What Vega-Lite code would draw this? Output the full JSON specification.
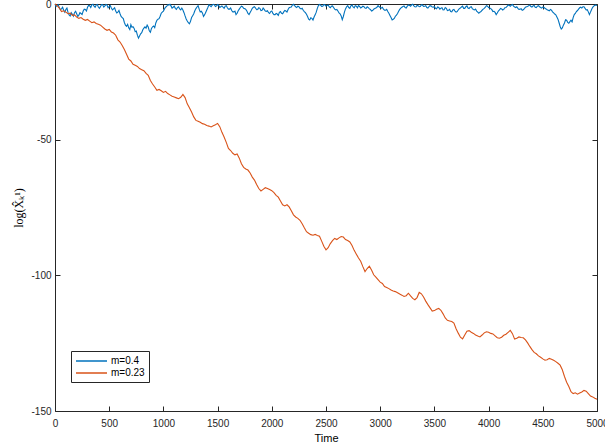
{
  "$schema": "https://vega.github.io/schema/vega-lite/v6.json",
  "autosize": {"type": "none"},
  "padding": {"left": 55, "top": 4, "right": 8, "bottom": 37},
  "width": 542,
  "height": 407,
  "background": "white",
  "config": {
    "view": {"stroke": null},
    "axis": {
      "domainColor": "#262626",
      "domainWidth": 1,
      "tickColor": "#262626",
      "tickSize": -5,
      "tickWidth": 1,
      "labelColor": "#262626",
      "labelFont": "Liberation Sans",
      "labelFontSize": 10,
      "titleColor": "#000000",
      "titleFont": "Liberation Sans",
      "titleFontSize": 11,
      "titleFontWeight": "normal",
      "grid": false,
      "zindex": 1
    },
    "legend": {
      "orient": "none",
      "legendX": 16,
      "legendY": 347,
      "direction": "vertical",
      "strokeColor": "#262626",
      "fillColor": "white",
      "padding": 4,
      "symbolType": "M-1,0H5.2",
      "symbolSize": 100,
      "symbolStrokeWidth": 1.5,
      "labelFont": "Liberation Sans",
      "labelFontSize": 10,
      "labelColor": "#000000",
      "labelOffset": 24,
      "rowPadding": 1,
      "cornerRadius": 0
    }
  },
  "datasets": {
    "a": [
{"t":0,"v":0},{"t":20,"v":-0.5},{"t":40,"v":-1.4},{"t":60,"v":-1.8},{"t":80,"v":-2.3},{"t":100,"v":-2.0},{"t":120,"v":-3.1},{"t":140,"v":-4.4},{"t":160,"v":-3.8},{"t":180,"v":-3.2},{"t":200,"v":-3.6},{"t":220,"v":-4.1},{"t":240,"v":-3.5},{"t":260,"v":-2.6},{"t":280,"v":-2.0},{"t":300,"v":-1.2},{"t":320,"v":-0.6},{"t":340,"v":-0.3},{"t":360,"v":-0.8},{"t":380,"v":-0.4},{"t":400,"v":-1.1},{"t":420,"v":-0.9},{"t":440,"v":-0.3},{"t":460,"v":-0.7},{"t":480,"v":-0.4},{"t":500,"v":-1.0},{"t":520,"v":-1.5},{"t":540,"v":-1.8},{"t":560,"v":-2.6},{"t":580,"v":-3.0},{"t":600,"v":-3.6},{"t":620,"v":-5.0},{"t":640,"v":-6.8},{"t":660,"v":-8.2},{"t":680,"v":-8.8},{"t":700,"v":-7.6},{"t":720,"v":-8.4},{"t":740,"v":-10.2},{"t":760,"v":-11.5},{"t":770,"v":-12.6},{"t":790,"v":-11.0},{"t":810,"v":-9.5},{"t":830,"v":-8.4},{"t":850,"v":-7.8},{"t":870,"v":-9.9},{"t":890,"v":-9.0},{"t":910,"v":-8.1},{"t":930,"v":-7.0},{"t":950,"v":-5.6},{"t":970,"v":-4.5},{"t":990,"v":-3.0},{"t":1010,"v":-1.8},{"t":1030,"v":-0.9},{"t":1050,"v":-0.4},{"t":1070,"v":-0.7},{"t":1090,"v":-1.2},{"t":1110,"v":-1.6},{"t":1130,"v":-1.3},{"t":1150,"v":-1.8},{"t":1170,"v":-1.5},{"t":1190,"v":-3.2},{"t":1210,"v":-5.5},{"t":1230,"v":-6.9},{"t":1250,"v":-6.4},{"t":1270,"v":-4.3},{"t":1290,"v":-2.5},{"t":1310,"v":-1.1},{"t":1330,"v":-1.9},{"t":1350,"v":-2.7},{"t":1370,"v":-4.6},{"t":1390,"v":-3.1},{"t":1410,"v":-1.3},{"t":1430,"v":-0.6},{"t":1450,"v":-0.4},{"t":1470,"v":-0.3},{"t":1490,"v":-0.7},{"t":1510,"v":-0.5},{"t":1530,"v":-1.0},{"t":1550,"v":-1.2},{"t":1570,"v":-0.8},{"t":1590,"v":-1.4},{"t":1610,"v":-1.9},{"t":1630,"v":-2.4},{"t":1650,"v":-2.9},{"t":1670,"v":-3.9},{"t":1690,"v":-2.5},{"t":1710,"v":-1.3},{"t":1730,"v":-1.0},{"t":1750,"v":-1.7},{"t":1770,"v":-2.6},{"t":1790,"v":-3.9},{"t":1810,"v":-2.4},{"t":1830,"v":-1.2},{"t":1850,"v":-1.5},{"t":1870,"v":-2.0},{"t":1890,"v":-1.6},{"t":1910,"v":-2.3},{"t":1930,"v":-2.0},{"t":1950,"v":-2.7},{"t":1970,"v":-3.2},{"t":1990,"v":-2.8},{"t":2010,"v":-3.5},{"t":2030,"v":-3.9},{"t":2050,"v":-3.7},{"t":2070,"v":-3.1},{"t":2090,"v":-3.4},{"t":2110,"v":-2.9},{"t":2130,"v":-2.6},{"t":2150,"v":-2.0},{"t":2170,"v":-1.2},{"t":2190,"v":-0.4},{"t":2210,"v":-0.6},{"t":2230,"v":-1.3},{"t":2250,"v":-1.0},{"t":2270,"v":-1.8},{"t":2290,"v":-2.3},{"t":2310,"v":-3.2},{"t":2330,"v":-4.6},{"t":2350,"v":-5.9},{"t":2370,"v":-5.3},{"t":2390,"v":-4.8},{"t":2410,"v":-3.0},{"t":2430,"v":-0.6},{"t":2450,"v":-0.4},{"t":2470,"v":-0.8},{"t":2490,"v":-0.3},{"t":2510,"v":-0.6},{"t":2530,"v":-1.1},{"t":2550,"v":-0.8},{"t":2570,"v":-1.3},{"t":2590,"v":-2.2},{"t":2610,"v":-2.6},{"t":2630,"v":-3.6},{"t":2650,"v":-5.8},{"t":2670,"v":-3.0},{"t":2690,"v":-1.0},{"t":2710,"v":-1.3},{"t":2730,"v":-0.7},{"t":2750,"v":-1.1},{"t":2770,"v":-0.6},{"t":2790,"v":-1.4},{"t":2810,"v":-0.9},{"t":2830,"v":-1.2},{"t":2850,"v":-1.0},{"t":2870,"v":-1.6},{"t":2890,"v":-1.3},{"t":2910,"v":-2.0},{"t":2930,"v":-2.4},{"t":2950,"v":-1.7},{"t":2970,"v":-1.2},{"t":2990,"v":-1.0},{"t":3010,"v":-1.5},{"t":3030,"v":-1.9},{"t":3050,"v":-2.3},{"t":3070,"v":-2.8},{"t":3090,"v":-4.2},{"t":3110,"v":-5.9},{"t":3130,"v":-5.3},{"t":3150,"v":-4.1},{"t":3170,"v":-2.7},{"t":3190,"v":-1.5},{"t":3210,"v":-0.9},{"t":3230,"v":-1.3},{"t":3250,"v":-0.8},{"t":3270,"v":-0.5},{"t":3290,"v":-0.3},{"t":3310,"v":-0.7},{"t":3330,"v":-1.1},{"t":3350,"v":-0.6},{"t":3370,"v":-0.9},{"t":3390,"v":-0.4},{"t":3410,"v":-0.8},{"t":3430,"v":-1.3},{"t":3450,"v":-1.0},{"t":3470,"v":-0.7},{"t":3490,"v":-1.2},{"t":3510,"v":-1.6},{"t":3530,"v":-1.1},{"t":3550,"v":-1.9},{"t":3570,"v":-1.4},{"t":3590,"v":-2.1},{"t":3610,"v":-1.6},{"t":3630,"v":-2.3},{"t":3650,"v":-2.8},{"t":3670,"v":-2.2},{"t":3690,"v":-2.6},{"t":3710,"v":-2.8},{"t":3730,"v":-1.7},{"t":3750,"v":-1.1},{"t":3770,"v":-1.6},{"t":3790,"v":-1.0},{"t":3810,"v":-1.5},{"t":3830,"v":-1.2},{"t":3850,"v":-1.7},{"t":3870,"v":-2.2},{"t":3890,"v":-2.6},{"t":3910,"v":-3.4},{"t":3930,"v":-2.8},{"t":3950,"v":-1.9},{"t":3970,"v":-1.2},{"t":3990,"v":-0.8},{"t":4010,"v":-1.5},{"t":4030,"v":-2.1},{"t":4050,"v":-2.7},{"t":4070,"v":-3.9},{"t":4090,"v":-2.6},{"t":4110,"v":-1.6},{"t":4130,"v":-2.2},{"t":4150,"v":-1.4},{"t":4170,"v":-0.9},{"t":4190,"v":-0.5},{"t":4210,"v":-0.4},{"t":4230,"v":-0.8},{"t":4250,"v":-1.3},{"t":4270,"v":-1.6},{"t":4290,"v":-1.9},{"t":4310,"v":-2.3},{"t":4330,"v":-1.7},{"t":4350,"v":-1.0},{"t":4370,"v":-0.6},{"t":4390,"v":-0.9},{"t":4410,"v":-0.7},{"t":4430,"v":-1.2},{"t":4450,"v":-0.8},{"t":4470,"v":-1.0},{"t":4490,"v":-1.5},{"t":4510,"v":-1.2},{"t":4530,"v":-1.8},{"t":4550,"v":-2.3},{"t":4570,"v":-2.0},{"t":4590,"v":-2.9},{"t":4610,"v":-3.7},{"t":4630,"v":-4.8},{"t":4650,"v":-6.9},{"t":4670,"v":-9.2},{"t":4690,"v":-7.8},{"t":4710,"v":-5.8},{"t":4730,"v":-6.8},{"t":4750,"v":-6.5},{"t":4770,"v":-6.6},{"t":4790,"v":-3.9},{"t":4810,"v":-2.8},{"t":4830,"v":-1.9},{"t":4850,"v":-1.2},{"t":4870,"v":-1.0},{"t":4890,"v":-1.6},{"t":4910,"v":-2.1},{"t":4930,"v":-3.9},{"t":4950,"v":-2.0},{"t":4970,"v":-0.8},{"t":4990,"v":-0.4},{"t":5000,"v":-0.6},
{"t":10,"v":-0.9},{"t":30,"v":-0.2},{"t":50,"v":-2.1},{"t":70,"v":-1.2},{"t":90,"v":-3.0},{"t":110,"v":-1.5},{"t":130,"v":-4.0},{"t":150,"v":-3.2},{"t":170,"v":-4.5},{"t":190,"v":-2.7},{"t":210,"v":-4.6},{"t":230,"v":-3.2},{"t":250,"v":-3.9},{"t":270,"v":-1.9},{"t":290,"v":-2.6},{"t":310,"v":-0.5},{"t":330,"v":-1.3},{"t":350,"v":-0.1},{"t":370,"v":-1.2},{"t":390,"v":-0.2},{"t":410,"v":-1.6},{"t":430,"v":-0.2},{"t":450,"v":-1.1},{"t":470,"v":-0.2},{"t":490,"v":-1.4},{"t":510,"v":-0.6},{"t":530,"v":-2.2},{"t":550,"v":-1.4},{"t":570,"v":-3.3},{"t":590,"v":-2.4},{"t":610,"v":-4.6},{"t":630,"v":-5.4},{"t":650,"v":-7.8},{"t":670,"v":-7.5},{"t":690,"v":-9.4},{"t":710,"v":-8.6},{"t":730,"v":-9.0},{"t":750,"v":-10.0},{"t":780,"v":-11.8},{"t":800,"v":-10.6},{"t":820,"v":-8.9},{"t":840,"v":-8.9},{"t":860,"v":-8.5},{"t":880,"v":-10.4},{"t":900,"v":-8.4},{"t":920,"v":-8.7},{"t":940,"v":-6.0},{"t":960,"v":-5.4},{"t":980,"v":-3.4},{"t":1000,"v":-2.6},{"t":1020,"v":-1.2},{"t":1040,"v":-0.3},{"t":1060,"v":-0.1},{"t":1080,"v":-1.5},{"t":1100,"v":-0.8},{"t":1120,"v":-2.0},{"t":1140,"v":-1.0},{"t":1160,"v":-2.2},{"t":1180,"v":-2.2},{"t":1200,"v":-4.4},{"t":1220,"v":-6.3},{"t":1240,"v":-7.3},{"t":1260,"v":-5.0},{"t":1280,"v":-3.6},{"t":1300,"v":-1.7},{"t":1320,"v":-0.6},{"t":1340,"v":-2.9},{"t":1360,"v":-3.3},{"t":1380,"v":-4.0},{"t":1400,"v":-2.2},{"t":1420,"v":-0.3},{"t":1440,"v":-1.0},{"t":1460,"v":-0.1},{"t":1480,"v":-0.9},{"t":1500,"v":-0.2},{"t":1520,"v":-1.3},{"t":1540,"v":-0.7},{"t":1560,"v":-1.6},{"t":1580,"v":-0.6},{"t":1600,"v":-1.9},{"t":1620,"v":-1.5},{"t":1640,"v":-2.9},{"t":1660,"v":-2.6},{"t":1680,"v":-3.4},{"t":1700,"v":-1.9},{"t":1720,"v":-0.8},{"t":1740,"v":-1.6},{"t":1760,"v":-2.0},{"t":1780,"v":-3.5},{"t":1800,"v":-3.1},{"t":1820,"v":-1.6},{"t":1840,"v":-1.0},{"t":1860,"v":-2.1},{"t":1880,"v":-1.4},{"t":1900,"v":-2.4},{"t":1920,"v":-1.5},{"t":1940,"v":-2.6},{"t":1960,"v":-2.5},{"t":1980,"v":-3.5},{"t":2000,"v":-2.6},{"t":2020,"v":-3.9},{"t":2040,"v":-3.5},{"t":2060,"v":-4.2},{"t":2080,"v":-2.8},{"t":2100,"v":-3.6},{"t":2120,"v":-2.4},{"t":2140,"v":-3.0},{"t":2160,"v":-1.4},{"t":2180,"v":-1.1},{"t":2200,"v":-0.1},{"t":2220,"v":-1.0},{"t":2240,"v":-0.8},{"t":2260,"v":-1.6},{"t":2280,"v":-1.6},{"t":2300,"v":-2.8},{"t":2320,"v":-3.8},{"t":2340,"v":-5.6},{"t":2360,"v":-5.1},{"t":2380,"v":-5.9},{"t":2400,"v":-4.0},{"t":2420,"v":-1.6},{"t":2440,"v":-0.2},{"t":2460,"v":-0.9},{"t":2480,"v":-0.2},{"t":2500,"v":-0.8},{"t":2520,"v":-0.4},{"t":2540,"v":-1.4},{"t":2560,"v":-0.7},{"t":2580,"v":-1.9},{"t":2600,"v":-2.0},{"t":2620,"v":-3.3},{"t":2640,"v":-4.4},{"t":2660,"v":-4.6},{"t":2680,"v":-1.8},{"t":2700,"v":-0.6},{"t":2720,"v":-1.6},{"t":2740,"v":-0.4},{"t":2760,"v":-1.4},{"t":2780,"v":-0.8},{"t":2800,"v":-0.6},{"t":2820,"v":-1.5},{"t":2840,"v":-0.8},{"t":2860,"v":-1.5},{"t":2880,"v":-1.0},{"t":2900,"v":-1.8},{"t":2920,"v":-2.6},{"t":2940,"v":-1.9},{"t":2960,"v":-1.5},{"t":2980,"v":-0.6},{"t":3000,"v":-1.3},{"t":3020,"v":-1.2},{"t":3040,"v":-2.3},{"t":3060,"v":-2.0},{"t":3080,"v":-3.4},{"t":3100,"v":-5.0},{"t":3120,"v":-5.6},{"t":3140,"v":-4.5},{"t":3160,"v":-3.5},{"t":3180,"v":-2.0},{"t":3200,"v":-1.2},{"t":3220,"v":-0.7},{"t":3240,"v":-1.5},{"t":3260,"v":-0.4},{"t":3280,"v":-0.8},{"t":3300,"v":-0.1},{"t":3320,"v":-1.0},{"t":3340,"v":-0.5},{"t":3360,"v":-1.0},{"t":3380,"v":-0.3},{"t":3400,"v":-0.9},{"t":3420,"v":-0.6},{"t":3440,"v":-1.5},{"t":3460,"v":-0.6},{"t":3480,"v":-1.1},{"t":3500,"v":-0.9},{"t":3520,"v":-1.8},{"t":3540,"v":-1.3},{"t":3560,"v":-1.6},{"t":3580,"v":-2.2},{"t":3600,"v":-1.3},{"t":3620,"v":-2.4},{"t":3640,"v":-2.0},{"t":3660,"v":-2.9},{"t":3680,"v":-2.0},{"t":3700,"v":-3.0},{"t":3720,"v":-2.2},{"t":3740,"v":-1.5},{"t":3760,"v":-0.8},{"t":3780,"v":-1.6},{"t":3800,"v":-0.7},{"t":3820,"v":-1.7},{"t":3840,"v":-1.0},{"t":3860,"v":-2.0},{"t":3880,"v":-1.9},{"t":3900,"v":-3.0},{"t":3920,"v":-3.0},{"t":3940,"v":-2.3},{"t":3960,"v":-1.6},{"t":3980,"v":-0.6},{"t":4000,"v":-1.3},{"t":4020,"v":-1.7},{"t":4040,"v":-2.8},{"t":4060,"v":-3.1},{"t":4080,"v":-3.3},{"t":4100,"v":-2.2},{"t":4120,"v":-1.8},{"t":4140,"v":-2.0},{"t":4160,"v":-1.3},{"t":4180,"v":-0.4},{"t":4200,"v":-0.8},{"t":4220,"v":-0.2},{"t":4240,"v":-1.1},{"t":4260,"v":-1.0},{"t":4280,"v":-2.0},{"t":4300,"v":-1.7},{"t":4320,"v":-2.1},{"t":4340,"v":-1.2},{"t":4360,"v":-0.9},{"t":4380,"v":-0.4},{"t":4400,"v":-1.1},{"t":4420,"v":-0.5},{"t":4440,"v":-1.3},{"t":4460,"v":-0.6},{"t":4480,"v":-1.3},{"t":4500,"v":-1.1},{"t":4520,"v":-1.6},{"t":4540,"v":-2.1},{"t":4560,"v":-2.5},{"t":4580,"v":-2.3},{"t":4600,"v":-3.3},{"t":4620,"v":-4.0},{"t":4640,"v":-5.6},{"t":4660,"v":-8.3},{"t":4680,"v":-8.8},{"t":4700,"v":-7.0},{"t":4720,"v":-6.0},{"t":4740,"v":-7.1},{"t":4760,"v":-6.0},{"t":4780,"v":-5.0},{"t":4800,"v":-3.5},{"t":4820,"v":-2.4},{"t":4840,"v":-1.4},{"t":4860,"v":-1.5},{"t":4880,"v":-1.0},{"t":4900,"v":-2.2},{"t":4920,"v":-2.9},{"t":4940,"v":-3.0},{"t":4960,"v":-1.2},{"t":4980,"v":-0.5}
    ],
    "b": [
{"t":0,"v":0},{"t":20,"v":-0.6},{"t":40,"v":-1.5},{"t":60,"v":-2.8},{"t":80,"v":-2.5},{"t":100,"v":-3.0},{"t":120,"v":-3.6},{"t":140,"v":-3.4},{"t":160,"v":-4.2},{"t":180,"v":-4.0},{"t":200,"v":-4.8},{"t":220,"v":-5.3},{"t":240,"v":-5.0},{"t":260,"v":-5.6},{"t":280,"v":-6.0},{"t":300,"v":-5.7},{"t":320,"v":-6.3},{"t":340,"v":-6.9},{"t":360,"v":-6.6},{"t":380,"v":-7.2},{"t":400,"v":-7.5},{"t":420,"v":-7.8},{"t":440,"v":-8.5},{"t":460,"v":-9.2},{"t":480,"v":-9.7},{"t":500,"v":-9.4},{"t":520,"v":-10.3},{"t":540,"v":-10.7},{"t":560,"v":-11.5},{"t":580,"v":-13.2},{"t":600,"v":-14.0},{"t":620,"v":-15.3},{"t":640,"v":-16.8},{"t":660,"v":-18.5},{"t":680,"v":-20.3},{"t":700,"v":-21.0},{"t":720,"v":-22.2},{"t":740,"v":-22.6},{"t":760,"v":-23.0},{"t":780,"v":-23.8},{"t":800,"v":-24.2},{"t":820,"v":-24.6},{"t":840,"v":-25.6},{"t":860,"v":-26.3},{"t":880,"v":-28.2},{"t":900,"v":-29.5},{"t":920,"v":-30.6},{"t":940,"v":-31.8},{"t":960,"v":-31.5},{"t":980,"v":-32.0},{"t":1000,"v":-32.6},{"t":1020,"v":-32.2},{"t":1040,"v":-33.0},{"t":1060,"v":-33.5},{"t":1080,"v":-34.0},{"t":1100,"v":-34.3},{"t":1120,"v":-34.6},{"t":1140,"v":-34.9},{"t":1160,"v":-34.4},{"t":1180,"v":-33.3},{"t":1200,"v":-34.5},{"t":1220,"v":-36.8},{"t":1240,"v":-38.2},{"t":1260,"v":-39.8},{"t":1280,"v":-41.6},{"t":1300,"v":-42.9},{"t":1320,"v":-43.2},{"t":1340,"v":-43.6},{"t":1360,"v":-44.1},{"t":1380,"v":-44.3},{"t":1400,"v":-44.8},{"t":1420,"v":-45.0},{"t":1440,"v":-45.3},{"t":1460,"v":-44.9},{"t":1480,"v":-44.5},{"t":1500,"v":-44.0},{"t":1520,"v":-45.2},{"t":1540,"v":-47.3},{"t":1560,"v":-49.0},{"t":1580,"v":-51.0},{"t":1600,"v":-53.2},{"t":1620,"v":-54.0},{"t":1640,"v":-55.0},{"t":1660,"v":-55.6},{"t":1680,"v":-55.3},{"t":1700,"v":-56.8},{"t":1720,"v":-58.9},{"t":1740,"v":-60.2},{"t":1760,"v":-60.8},{"t":1780,"v":-61.2},{"t":1800,"v":-62.3},{"t":1820,"v":-63.8},{"t":1840,"v":-64.9},{"t":1860,"v":-66.5},{"t":1880,"v":-68.0},{"t":1900,"v":-68.9},{"t":1920,"v":-68.3},{"t":1940,"v":-67.7},{"t":1960,"v":-68.0},{"t":1980,"v":-68.4},{"t":2000,"v":-68.8},{"t":2020,"v":-69.5},{"t":2040,"v":-70.5},{"t":2060,"v":-71.2},{"t":2080,"v":-72.6},{"t":2100,"v":-74.0},{"t":2120,"v":-74.4},{"t":2140,"v":-74.0},{"t":2160,"v":-74.8},{"t":2180,"v":-76.2},{"t":2200,"v":-77.7},{"t":2220,"v":-78.5},{"t":2240,"v":-79.0},{"t":2260,"v":-79.7},{"t":2280,"v":-81.0},{"t":2300,"v":-82.5},{"t":2320,"v":-83.9},{"t":2340,"v":-84.5},{"t":2360,"v":-85.0},{"t":2380,"v":-85.2},{"t":2400,"v":-84.9},{"t":2420,"v":-85.3},{"t":2440,"v":-85.6},{"t":2460,"v":-87.4},{"t":2480,"v":-89.3},{"t":2500,"v":-90.6},{"t":2520,"v":-89.8},{"t":2540,"v":-88.3},{"t":2560,"v":-87.2},{"t":2580,"v":-86.4},{"t":2600,"v":-86.8},{"t":2620,"v":-86.2},{"t":2640,"v":-85.7},{"t":2660,"v":-85.9},{"t":2680,"v":-86.8},{"t":2700,"v":-87.2},{"t":2720,"v":-87.7},{"t":2740,"v":-89.0},{"t":2760,"v":-90.8},{"t":2780,"v":-92.2},{"t":2800,"v":-93.6},{"t":2820,"v":-94.8},{"t":2840,"v":-96.8},{"t":2860,"v":-98.6},{"t":2880,"v":-97.5},{"t":2900,"v":-96.6},{"t":2920,"v":-98.0},{"t":2940,"v":-99.8},{"t":2960,"v":-100.7},{"t":2980,"v":-101.6},{"t":3000,"v":-102.5},{"t":3020,"v":-103.0},{"t":3040,"v":-104.1},{"t":3060,"v":-104.5},{"t":3080,"v":-104.9},{"t":3100,"v":-105.4},{"t":3120,"v":-105.8},{"t":3140,"v":-106.0},{"t":3160,"v":-106.4},{"t":3180,"v":-106.9},{"t":3200,"v":-107.3},{"t":3220,"v":-107.8},{"t":3240,"v":-107.5},{"t":3260,"v":-106.6},{"t":3280,"v":-107.6},{"t":3300,"v":-108.5},{"t":3320,"v":-109.0},{"t":3340,"v":-108.2},{"t":3360,"v":-106.3},{"t":3380,"v":-106.8},{"t":3400,"v":-108.0},{"t":3420,"v":-109.5},{"t":3440,"v":-110.8},{"t":3460,"v":-112.0},{"t":3480,"v":-113.2},{"t":3500,"v":-113.0},{"t":3520,"v":-112.5},{"t":3540,"v":-112.2},{"t":3560,"v":-112.9},{"t":3580,"v":-114.2},{"t":3600,"v":-115.7},{"t":3620,"v":-116.6},{"t":3640,"v":-116.8},{"t":3660,"v":-117.0},{"t":3680,"v":-117.6},{"t":3700,"v":-119.7},{"t":3720,"v":-121.3},{"t":3740,"v":-122.8},{"t":3760,"v":-123.4},{"t":3780,"v":-122.0},{"t":3800,"v":-120.6},{"t":3820,"v":-120.4},{"t":3840,"v":-121.0},{"t":3860,"v":-121.4},{"t":3880,"v":-122.0},{"t":3900,"v":-122.4},{"t":3920,"v":-122.7},{"t":3940,"v":-122.0},{"t":3960,"v":-121.2},{"t":3980,"v":-120.8},{"t":4000,"v":-121.0},{"t":4020,"v":-121.4},{"t":4040,"v":-121.6},{"t":4060,"v":-122.3},{"t":4080,"v":-123.0},{"t":4100,"v":-123.2},{"t":4120,"v":-122.8},{"t":4140,"v":-122.1},{"t":4160,"v":-121.7},{"t":4180,"v":-121.0},{"t":4200,"v":-120.3},{"t":4220,"v":-121.5},{"t":4240,"v":-123.5},{"t":4260,"v":-123.2},{"t":4280,"v":-122.7},{"t":4300,"v":-122.9},{"t":4320,"v":-123.0},{"t":4340,"v":-123.8},{"t":4360,"v":-124.9},{"t":4380,"v":-126.2},{"t":4400,"v":-127.4},{"t":4420,"v":-128.4},{"t":4440,"v":-128.9},{"t":4460,"v":-129.7},{"t":4480,"v":-130.2},{"t":4500,"v":-130.8},{"t":4520,"v":-131.3},{"t":4540,"v":-131.1},{"t":4560,"v":-130.6},{"t":4580,"v":-130.9},{"t":4600,"v":-131.3},{"t":4620,"v":-131.8},{"t":4640,"v":-132.4},{"t":4660,"v":-133.1},{"t":4680,"v":-134.8},{"t":4700,"v":-137.3},{"t":4720,"v":-139.4},{"t":4740,"v":-141.0},{"t":4760,"v":-142.9},{"t":4780,"v":-143.6},{"t":4800,"v":-143.3},{"t":4820,"v":-143.8},{"t":4840,"v":-143.4},{"t":4860,"v":-143.0},{"t":4880,"v":-142.4},{"t":4900,"v":-142.7},{"t":4920,"v":-143.6},{"t":4940,"v":-144.5},{"t":4960,"v":-144.8},{"t":4980,"v":-145.3},{"t":5000,"v":-145.7}
    ]
  },
  "resolve": {"axis": {"x": "independent", "y": "independent"}},
  "layer": [
    {
      "data": {"name": "a"},
      "mark": {"type": "line", "strokeWidth": 1.1, "interpolate": "linear"},
      "encoding": {
        "x": {"field": "t", "type": "quantitative",
              "scale": {"domain": [0, 5000], "nice": false, "zero": false},
              "axis": {"orient": "bottom", "title": "Time", "values": [0,500,1000,1500,2000,2500,3000,3500,4000,4500,5000],
                       "labelPadding": 12, "titlePadding": 4, "labelFlush": false, "labelOverlap": false, "format": "d"}},
        "y": {"field": "v", "type": "quantitative",
              "scale": {"domain": [-150, 0], "nice": false, "zero": false},
              "axis": {"orient": "left", "title": "log(X̂ₖ¹)", "titleFont": "Liberation Serif", "titleFontSize": 12,
                       "values": [-150,-100,-50,0], "labelPadding": 9, "titlePadding": 5, "labelFlush": false,
                       "labelExpr": "'' + datum.value"}},
        "color": {"datum": "m=0.4", "type": "nominal",
                  "scale": {"domain": ["m=0.4", "m=0.23"], "range": ["#0072BD", "#D95319"]},
                  "legend": {"title": null}}
      }
    },
    {
      "data": {"name": "b"},
      "mark": {"type": "line", "strokeWidth": 1.1, "interpolate": "linear"},
      "encoding": {
        "x": {"field": "t", "type": "quantitative", "axis": null},
        "y": {"field": "v", "type": "quantitative", "axis": null},
        "color": {"datum": "m=0.23", "type": "nominal"}
      }
    },
    {
      "data": {"name": "b"},
      "mark": {"type": "line", "opacity": 0},
      "encoding": {
        "x": {"field": "t", "type": "quantitative",
              "axis": {"orient": "top", "title": null, "labels": false, "values": [0,500,1000,1500,2000,2500,3000,3500,4000,4500,5000]}},
        "y": {"field": "v", "type": "quantitative",
              "axis": {"orient": "right", "title": null, "labels": false, "values": [-150,-100,-50,0]}}
      }
    }
  ]
}
